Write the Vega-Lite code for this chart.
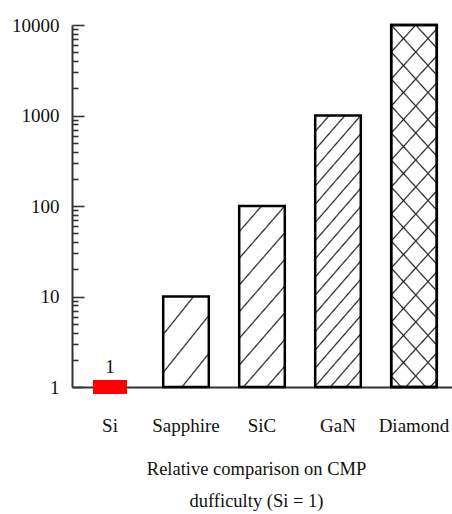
{
  "$schema": "https://vega.github.io/schema/vega-lite/v6.json",
  "autosize": "none",
  "width": 380,
  "height": 362,
  "padding": {"left": 72, "top": 25, "right": 0, "bottom": 127},
  "background": "white",
  "config": {
    "view": {"stroke": null},
    "font": "Liberation Serif"
  },
  "data": {
    "values": [
      {"material": "Si", "value": 1, "label": "1"},
      {"material": "Sapphire", "value": 10, "label": "10"},
      {"material": "SiC", "value": 100, "label": "100"},
      {"material": "GaN", "value": 1000, "label": "1000"},
      {"material": "Diamond", "value": 10000, "label": "10000"}
    ]
  },
  "resolve": {"axis": {"y": "independent"}},
  "layer": [
    {
      "encoding": {
        "x": {
          "field": "material",
          "type": "nominal",
          "sort": ["Si", "Sapphire", "SiC", "GaN", "Diamond"],
          "scale": {"paddingInner": 0.4, "paddingOuter": 0.2},
          "axis": {
            "labelAngle": 0,
            "ticks": false,
            "domainColor": "#333",
            "domainWidth": 2,
            "labelFont": "Liberation Serif",
            "labelFontSize": 19,
            "labelColor": "#111",
            "labelBaseline": "alphabetic",
            "labelPadding": 44,
            "title": ["Relative comparison on CMP", "dufficulty (Si = 1)"],
            "titleFont": "Liberation Serif",
            "titleFontSize": 18.5,
            "titleFontWeight": "normal",
            "titleColor": "#111",
            "titleLineHeight": 32,
            "titleX": 184,
            "titleY": 87,
            "titleAlign": "center",
            "titleAnchor": "start",
            "titleBaseline": "alphabetic"
          }
        },
        "y": {
          "field": "value",
          "type": "quantitative",
          "scale": {"type": "log", "domain": [1, 10000], "nice": false},
          "axis": {
            "orient": "left",
            "title": null,
            "grid": false,
            "values": [1, 10, 100, 1000, 10000],
            "format": "d",
            "ticks": false,
            "labelOverlap": false,
            "labelBound": false,
            "labelFlush": false,
            "domainColor": "#333",
            "domainWidth": 2,
            "labelFont": "Liberation Serif",
            "labelFontSize": 19,
            "labelColor": "#111",
            "labelPadding": 13
          }
        }
      },
      "layer": [
        {
          "transform": [{"filter": "datum.material === 'Sapphire'"}],
          "mark": {
            "type": "bar",
            "stroke": "#000",
            "strokeWidth": 2.5,
            "fill": {
              "gradient": "linear", "x1": 0, "y1": 0, "x2": 0.735, "y2": 1.1669,
              "stops": [
                {"offset": 0, "color": "#ffffff"},
                {"offset": 0.2446, "color": "#ffffff"}, {"offset": 0.2576, "color": "#222222"}, {"offset": 0.2707, "color": "#ffffff"},
                {"offset": 0.5022, "color": "#ffffff"}, {"offset": 0.5153, "color": "#222222"}, {"offset": 0.5283, "color": "#ffffff"},
                {"offset": 0.7599, "color": "#ffffff"}, {"offset": 0.7729, "color": "#222222"}, {"offset": 0.7859, "color": "#ffffff"},
                {"offset": 1, "color": "#ffffff"}
              ]
            }
          },
          "encoding": {"y2": {"datum": 1}}
        },
        {
          "transform": [{"filter": "datum.material === 'SiC'"}],
          "mark": {
            "type": "bar",
            "stroke": "#000",
            "strokeWidth": 2.5,
            "fill": {
              "gradient": "linear", "x1": 0, "y1": 0, "x2": 0.3447, "y2": 1.1899,
              "stops": [
                {"offset": 0, "color": "#ffffff"},
                {"offset": 0.1023, "color": "#ffffff"}, {"offset": 0.1101, "color": "#222222"}, {"offset": 0.1179, "color": "#ffffff"},
                {"offset": 0.2166, "color": "#ffffff"}, {"offset": 0.2245, "color": "#222222"}, {"offset": 0.2323, "color": "#ffffff"},
                {"offset": 0.3310, "color": "#ffffff"}, {"offset": 0.3389, "color": "#222222"}, {"offset": 0.3467, "color": "#ffffff"},
                {"offset": 0.4454, "color": "#ffffff"}, {"offset": 0.4532, "color": "#222222"}, {"offset": 0.4611, "color": "#ffffff"},
                {"offset": 0.5598, "color": "#ffffff"}, {"offset": 0.5676, "color": "#222222"}, {"offset": 0.5754, "color": "#ffffff"},
                {"offset": 0.6741, "color": "#ffffff"}, {"offset": 0.6820, "color": "#222222"}, {"offset": 0.6898, "color": "#ffffff"},
                {"offset": 0.7885, "color": "#ffffff"}, {"offset": 0.7964, "color": "#222222"}, {"offset": 0.8042, "color": "#ffffff"},
                {"offset": 0.9029, "color": "#ffffff"}, {"offset": 0.9107, "color": "#222222"}, {"offset": 0.9186, "color": "#ffffff"},
                {"offset": 1, "color": "#ffffff"}
              ]
            }
          },
          "encoding": {"y2": {"datum": 1}}
        },
        {
          "transform": [{"filter": "datum.material === 'GaN'"}],
          "mark": {
            "type": "bar",
            "stroke": "#000",
            "strokeWidth": 2.5,
            "fill": {
              "gradient": "linear", "x1": 0, "y1": 0, "x2": 0.2222, "y2": 1.1502,
              "stops": [
                {"offset": 0, "color": "#ffffff"},
                {"offset": 0.0438, "color": "#ffffff"}, {"offset": 0.0494, "color": "#222222"}, {"offset": 0.0550, "color": "#ffffff"},
                {"offset": 0.1000, "color": "#ffffff"}, {"offset": 0.1056, "color": "#222222"}, {"offset": 0.1112, "color": "#ffffff"},
                {"offset": 0.1562, "color": "#ffffff"}, {"offset": 0.1618, "color": "#222222"}, {"offset": 0.1674, "color": "#ffffff"},
                {"offset": 0.2123, "color": "#ffffff"}, {"offset": 0.2179, "color": "#222222"}, {"offset": 0.2235, "color": "#ffffff"},
                {"offset": 0.2685, "color": "#ffffff"}, {"offset": 0.2741, "color": "#222222"}, {"offset": 0.2797, "color": "#ffffff"},
                {"offset": 0.3247, "color": "#ffffff"}, {"offset": 0.3303, "color": "#222222"}, {"offset": 0.3359, "color": "#ffffff"},
                {"offset": 0.3809, "color": "#ffffff"}, {"offset": 0.3865, "color": "#222222"}, {"offset": 0.3921, "color": "#ffffff"},
                {"offset": 0.4371, "color": "#ffffff"}, {"offset": 0.4427, "color": "#222222"}, {"offset": 0.4483, "color": "#ffffff"},
                {"offset": 0.4933, "color": "#ffffff"}, {"offset": 0.4989, "color": "#222222"}, {"offset": 0.5045, "color": "#ffffff"},
                {"offset": 0.5494, "color": "#ffffff"}, {"offset": 0.5550, "color": "#222222"}, {"offset": 0.5606, "color": "#ffffff"},
                {"offset": 0.6056, "color": "#ffffff"}, {"offset": 0.6112, "color": "#222222"}, {"offset": 0.6168, "color": "#ffffff"},
                {"offset": 0.6618, "color": "#ffffff"}, {"offset": 0.6674, "color": "#222222"}, {"offset": 0.6730, "color": "#ffffff"},
                {"offset": 0.7180, "color": "#ffffff"}, {"offset": 0.7236, "color": "#222222"}, {"offset": 0.7292, "color": "#ffffff"},
                {"offset": 0.7742, "color": "#ffffff"}, {"offset": 0.7798, "color": "#222222"}, {"offset": 0.7854, "color": "#ffffff"},
                {"offset": 0.8304, "color": "#ffffff"}, {"offset": 0.8360, "color": "#222222"}, {"offset": 0.8416, "color": "#ffffff"},
                {"offset": 0.8865, "color": "#ffffff"}, {"offset": 0.8921, "color": "#222222"}, {"offset": 0.8977, "color": "#ffffff"},
                {"offset": 0.9427, "color": "#ffffff"}, {"offset": 0.9483, "color": "#222222"}, {"offset": 0.9539, "color": "#ffffff"},
                {"offset": 1, "color": "#ffffff"}
              ]
            }
          },
          "encoding": {"y2": {"datum": 1}}
        },
        {
          "transform": [{"filter": "datum.material === 'Diamond'"}],
          "mark": {
            "type": "bar",
            "stroke": "#000",
            "strokeWidth": 2.5,
            "fill": {
              "gradient": "linear", "x1": 0, "y1": 0, "x2": 0.1548, "y2": 1.1171,
              "stops": [
                {"offset": 0, "color": "#ffffff"},
                {"offset": 0.0612, "color": "#ffffff"}, {"offset": 0.0655, "color": "#222222"}, {"offset": 0.0698, "color": "#ffffff"},
                {"offset": 0.1267, "color": "#ffffff"}, {"offset": 0.1310, "color": "#222222"}, {"offset": 0.1353, "color": "#ffffff"},
                {"offset": 0.1922, "color": "#ffffff"}, {"offset": 0.1965, "color": "#222222"}, {"offset": 0.2008, "color": "#ffffff"},
                {"offset": 0.2577, "color": "#ffffff"}, {"offset": 0.2620, "color": "#222222"}, {"offset": 0.2663, "color": "#ffffff"},
                {"offset": 0.3232, "color": "#ffffff"}, {"offset": 0.3275, "color": "#222222"}, {"offset": 0.3318, "color": "#ffffff"},
                {"offset": 0.3887, "color": "#ffffff"}, {"offset": 0.3930, "color": "#222222"}, {"offset": 0.3973, "color": "#ffffff"},
                {"offset": 0.4543, "color": "#ffffff"}, {"offset": 0.4586, "color": "#222222"}, {"offset": 0.4629, "color": "#ffffff"},
                {"offset": 0.5198, "color": "#ffffff"}, {"offset": 0.5241, "color": "#222222"}, {"offset": 0.5284, "color": "#ffffff"},
                {"offset": 0.5853, "color": "#ffffff"}, {"offset": 0.5896, "color": "#222222"}, {"offset": 0.5939, "color": "#ffffff"},
                {"offset": 0.6508, "color": "#ffffff"}, {"offset": 0.6551, "color": "#222222"}, {"offset": 0.6594, "color": "#ffffff"},
                {"offset": 0.7163, "color": "#ffffff"}, {"offset": 0.7206, "color": "#222222"}, {"offset": 0.7249, "color": "#ffffff"},
                {"offset": 0.7818, "color": "#ffffff"}, {"offset": 0.7861, "color": "#222222"}, {"offset": 0.7904, "color": "#ffffff"},
                {"offset": 0.8473, "color": "#ffffff"}, {"offset": 0.8516, "color": "#222222"}, {"offset": 0.8559, "color": "#ffffff"},
                {"offset": 0.9128, "color": "#ffffff"}, {"offset": 0.9171, "color": "#222222"}, {"offset": 0.9214, "color": "#ffffff"},
                {"offset": 0.9783, "color": "#ffffff"}, {"offset": 0.9826, "color": "#222222"}, {"offset": 0.9869, "color": "#ffffff"},
                {"offset": 1, "color": "#ffffff"}
              ]
            }
          },
          "encoding": {"y2": {"datum": 1}}
        },
        {
          "transform": [{"filter": "datum.material === 'Diamond'"}],
          "mark": {
            "type": "bar",
            "stroke": "#000",
            "strokeWidth": 2.5,
            "fill": {
              "gradient": "linear", "x1": 1, "y1": 0, "x2": 0.8452, "y2": 1.1171,
              "stops": [
                {"offset": 0, "color": "rgba(34,34,34,0)"},
                {"offset": 0.0519, "color": "rgba(34,34,34,0)"}, {"offset": 0.0562, "color": "rgba(34,34,34,1)"}, {"offset": 0.0605, "color": "rgba(34,34,34,0)"},
                {"offset": 0.1174, "color": "rgba(34,34,34,0)"}, {"offset": 0.1217, "color": "rgba(34,34,34,1)"}, {"offset": 0.1260, "color": "rgba(34,34,34,0)"},
                {"offset": 0.1829, "color": "rgba(34,34,34,0)"}, {"offset": 0.1872, "color": "rgba(34,34,34,1)"}, {"offset": 0.1915, "color": "rgba(34,34,34,0)"},
                {"offset": 0.2484, "color": "rgba(34,34,34,0)"}, {"offset": 0.2527, "color": "rgba(34,34,34,1)"}, {"offset": 0.2570, "color": "rgba(34,34,34,0)"},
                {"offset": 0.3139, "color": "rgba(34,34,34,0)"}, {"offset": 0.3182, "color": "rgba(34,34,34,1)"}, {"offset": 0.3225, "color": "rgba(34,34,34,0)"},
                {"offset": 0.3794, "color": "rgba(34,34,34,0)"}, {"offset": 0.3837, "color": "rgba(34,34,34,1)"}, {"offset": 0.3880, "color": "rgba(34,34,34,0)"},
                {"offset": 0.4449, "color": "rgba(34,34,34,0)"}, {"offset": 0.4492, "color": "rgba(34,34,34,1)"}, {"offset": 0.4535, "color": "rgba(34,34,34,0)"},
                {"offset": 0.5104, "color": "rgba(34,34,34,0)"}, {"offset": 0.5147, "color": "rgba(34,34,34,1)"}, {"offset": 0.5190, "color": "rgba(34,34,34,0)"},
                {"offset": 0.5760, "color": "rgba(34,34,34,0)"}, {"offset": 0.5803, "color": "rgba(34,34,34,1)"}, {"offset": 0.5846, "color": "rgba(34,34,34,0)"},
                {"offset": 0.6415, "color": "rgba(34,34,34,0)"}, {"offset": 0.6458, "color": "rgba(34,34,34,1)"}, {"offset": 0.6501, "color": "rgba(34,34,34,0)"},
                {"offset": 0.7070, "color": "rgba(34,34,34,0)"}, {"offset": 0.7113, "color": "rgba(34,34,34,1)"}, {"offset": 0.7156, "color": "rgba(34,34,34,0)"},
                {"offset": 0.7725, "color": "rgba(34,34,34,0)"}, {"offset": 0.7768, "color": "rgba(34,34,34,1)"}, {"offset": 0.7811, "color": "rgba(34,34,34,0)"},
                {"offset": 0.8380, "color": "rgba(34,34,34,0)"}, {"offset": 0.8423, "color": "rgba(34,34,34,1)"}, {"offset": 0.8466, "color": "rgba(34,34,34,0)"},
                {"offset": 0.9035, "color": "rgba(34,34,34,0)"}, {"offset": 0.9078, "color": "rgba(34,34,34,1)"}, {"offset": 0.9121, "color": "rgba(34,34,34,0)"},
                {"offset": 0.9690, "color": "rgba(34,34,34,0)"}, {"offset": 0.9733, "color": "rgba(34,34,34,1)"}, {"offset": 0.9776, "color": "rgba(34,34,34,0)"},
                {"offset": 1, "color": "rgba(34,34,34,0)"}
              ]
            }
          },
          "encoding": {"y2": {"datum": 1}}
        },
        {
          "transform": [{"filter": "datum.material === 'Si'"}],
          "mark": {"type": "tick", "color": "#ff0000", "opacity": 1, "thickness": 14, "size": 34}
        }
      ]
    },
    {
      "transform": [{"filter": "datum.material === 'Si'"}],
      "mark": {"type": "text", "font": "Liberation Serif", "fontSize": 19, "color": "#111", "baseline": "alphabetic", "dy": -14},
      "encoding": {
        "x": {"field": "material", "type": "nominal", "sort": ["Si", "Sapphire", "SiC", "GaN", "Diamond"]},
        "y": {
          "field": "value",
          "type": "quantitative",
          "scale": {"type": "log", "domain": [1, 10000], "nice": false},
          "axis": {
            "orient": "right",
            "offset": -380,
            "title": null,
            "grid": false,
            "domain": false,
            "labels": false,
            "values": [1, 2, 3, 4, 5, 6, 7, 8, 9, 10, 20, 30, 40, 50, 60, 70, 80, 90, 100, 200, 300, 400, 500, 600, 700, 800, 900, 1000, 2000, 3000, 4000, 5000, 6000, 7000, 8000, 9000, 10000],
            "tickSize": {"condition": {"test": "indexof([1, 10, 100, 1000, 10000], datum.value) >= 0", "value": 12}, "value": 6},
            "tickColor": "#333",
            "tickWidth": 1.6
          }
        },
        "text": {"field": "label"}
      }
    }
  ]
}
